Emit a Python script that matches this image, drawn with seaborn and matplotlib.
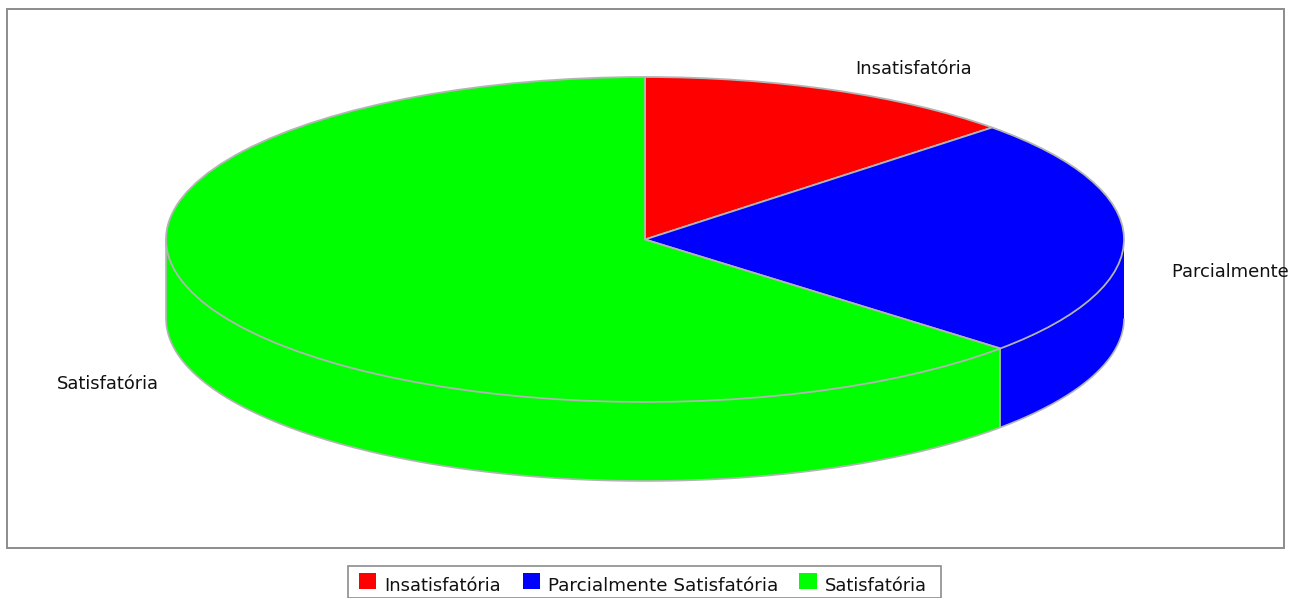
import numpy as np
import matplotlib
matplotlib.use("Agg")
import matplotlib.pyplot as plt
import seaborn as sns
from matplotlib.patches import Patch, Polygon, Rectangle
from matplotlib.transforms import Affine2D, Bbox

categories = ["Insatisfatória", "Parcialmente Satisfatória", "Satisfatória"]
values = [12.9, 23.8, 63.3]
colors = ["#ff0000", "#0000ff", "#00ff00"]

W, H = 1308, 598
CX, CY, RX, RY, DEPTH = 645, 239.5, 479, 162.5, 79
EDGE = "#b4b4b4"
FRAME = "#8c8c8c"
FS = 12.9

sns.set_theme(style="white")
plt.rcParams["font.family"] = ["DejaVu Sans"]
palette = sns.color_palette(colors)

fig = plt.figure(figsize=(W / 100, H / 100), dpi=100, facecolor="white")
ax = fig.add_axes([0, 0, 1, 1])
px = Affine2D().scale(1, -1).translate(0, H)  # pixel coordinates, y down

# Extruded side wall: front half of each slice
depth = DEPTH / RY
fracs = np.array(values) / np.sum(values)
edges = 90 - 360 * np.concatenate([[0], np.cumsum(fracs)])
for start, end, col in zip(edges[:-1], edges[1:], palette):
    lo, hi = max(end, -180), min(start, 0)
    if hi > lo:
        t = np.radians(np.linspace(hi, lo, 200))
        top = np.c_[np.cos(t), np.sin(t)]
        bot = top[::-1] - [0, depth]
        ax.add_patch(Polygon(np.r_[top, bot], closed=True, facecolor=col,
                             edgecolor="none", zorder=1))
        ax.plot(bot[:, 0], bot[:, 1], color=EDGE, lw=1.2, zorder=1.5,
                solid_capstyle="butt")
        # Vertical outline at the left end of this wall face
        x0, y0 = np.cos(np.radians(lo)), np.sin(np.radians(lo))
        ax.plot([x0, x0], [y0, y0 - depth], color=EDGE, lw=1.2, zorder=1.6,
                solid_capstyle="butt")

# Top of the pie
wedges, _ = ax.pie(values, colors=palette, startangle=90, counterclock=False,
                   radius=1, center=(0, 0),
                   wedgeprops=dict(edgecolor=EDGE, linewidth=1.3, zorder=2))
ax.set_aspect("auto")
ax.set_xlim(-CX / RX, (W - CX) / RX)
ax.set_ylim((CY - H) / RY, CY / RY)
ax.set_axis_off()

# Plot frame
ax.add_patch(Rectangle((6.5, 9), 1277.5, 539, transform=px, fill=False,
                       edgecolor=FRAME, lw=1.4, zorder=5, clip_on=False))

# Slice labels
label_pos = [(855, 69), (1172, 272), (57, 384)]
clip = Bbox([[0, 0], [1292, H]])
for name, (x, y) in zip(categories, label_pos):
    t = ax.text(x, y, name, transform=px, ha="left", va="center", fontsize=FS,
                color="#111111", zorder=6, clip_on=True)
    t.set_clip_box(clip)

# Legend (its box is drawn separately to match the reference's proportions)
ax.add_patch(Rectangle((348, 566), 593, 31.5, transform=px, fill=False,
                       edgecolor=FRAME, lw=1.2, zorder=5, clip_on=False))
handles = [Patch(facecolor=c, edgecolor="none", label=n) for c, n in zip(palette, categories)]
leg = fig.legend(handles=handles, loc="center", ncol=3,
                 bbox_to_anchor=(643, 582), bbox_transform=px,
                 frameon=False, fontsize=FS, handlelength=0.95, handleheight=0.95,
                 handletextpad=0.45, columnspacing=1.2, borderpad=0.45,
                 borderaxespad=0, labelcolor="#111111")
leg.get_texts()[1].set_fontsize(13.2)
for txt in leg.get_texts():
    txt.set_y(-4)

fig.savefig("out.png", dpi=100, facecolor="white")
